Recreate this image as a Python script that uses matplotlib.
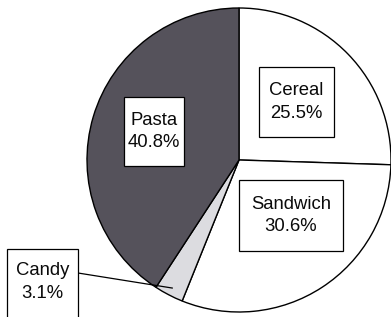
import numpy as np
import matplotlib.pyplot as plt
from matplotlib.patches import Rectangle

labels = ["Cereal", "Sandwich", "Candy", "Pasta"]
shares = [25.5, 30.6, 3.1, 40.8]
colors = ["white", "white", "#dcdce0", "#55525b"]

# label box layout in pixel coords (y up): (x0, y0, w, h)
boxes = {
    "Cereal": (259, 180, 75, 70),
    "Sandwich": (239, 66, 104, 71),
    "Candy": (7, -10, 71, 78),
    "Pasta": (124, 151, 60, 69),
}

plt.rcParams['font.family'] = ['Liberation Sans', 'DejaVu Sans']
fig = plt.figure(figsize=(3.91, 3.17), dpi=100)
ax = fig.add_axes([0, 0, 1, 1])

wedges, _ = ax.pie(shares, colors=colors, startangle=90, counterclock=False,
                   center=(239, 157), radius=152, frame=True,
                   wedgeprops=dict(edgecolor='black', linewidth=1.0))
ax.set_xlim(0, 391)
ax.set_ylim(0, 317)
ax.set_aspect('equal')
ax.axis('off')

for name, val in zip(labels, shares):
    x0, y0, w, h = boxes[name]
    ax.add_patch(Rectangle((x0, y0), w, h, facecolor='white',
                           edgecolor='black', linewidth=0.9, zorder=3))
    cy = y0 + h / 2 if name != "Candy" else 35
    ax.text(x0 + w / 2, cy, f"{name}\n{val}%", ha='center', va='center',
            fontsize=13.3, linespacing=1.4, zorder=4, color='#0a0a0a')

# leader line for Candy, ending near the bottom tip of its wedge
w = wedges[2]
mid = np.deg2rad((w.theta1 + w.theta2) / 2)
px = w.center[0] + w.r * 0.95 * np.cos(mid)
py = w.center[1] + w.r * 0.95 * np.sin(mid)
ax.plot([78, px], [44, py], color='black', linewidth=0.9, zorder=2)

fig.savefig("out.png", dpi=100)
